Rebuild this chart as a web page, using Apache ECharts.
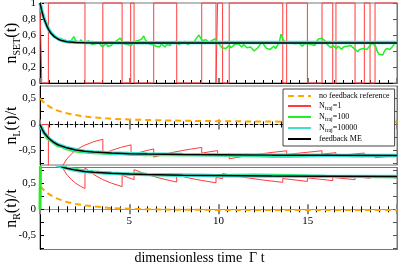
<!DOCTYPE html>
<html><head><meta charset="utf-8">
<script src="https://cdn.jsdelivr.net/npm/echarts@6/dist/echarts.min.js"></script>
<style>html,body{margin:0;padding:0;background:#fff}#c{width:399px;height:269px}</style>
</head><body><div id="c"></div>
<script>
// ---------- Panel 1 : n_SET(t) ----------
const redSwitchTimes = [0.1,0.47,2.52,3.52,4.6,5.08,5.27,6.37,7.66,9.06,9.86,9.95,10.23,10.6,13.6,13.82,14.98,15.8,16.4,16.58,17.65,18.17,18.49,18.77];
const redSetStates = [1,0,1,0,1,0,1,0,1,0,1,0,1,0,1,0,1,0,1,0,1,0,1,0,1];
const greenSetStep = 0.1;
const greenSet = [
1.0,0.91,0.84,0.77,0.72,0.68,0.64,0.61,0.59,0.57,
0.55,0.53,0.56,0.52,0.54,0.51,0.53,0.50,0.55,0.58,
0.53,0.55,0.51,0.54,0.50,0.52,0.49,0.53,0.51,0.48,
0.46,0.49,0.47,0.50,0.48,0.45,0.47,0.49,0.46,0.48,
0.47,0.50,0.49,0.53,0.51,0.56,0.52,0.49,0.51,0.48,
0.50,0.47,0.49,0.52,0.50,0.53,0.51,0.55,0.59,0.54,
0.52,0.49,0.51,0.48,0.50,0.46,0.48,0.45,0.49,0.47,
0.45,0.48,0.50,0.47,0.51,0.49,0.52,0.50,0.48,0.51,
0.49,0.52,0.50,0.48,0.51,0.53,0.50,0.54,0.57,0.60,
0.56,0.53,0.51,0.54,0.52,0.50,0.53,0.51,0.55,0.52,
0.50,0.47,0.44,0.46,0.43,0.45,0.47,0.44,0.46,0.48,
0.46,0.49,0.47,0.45,0.48,0.46,0.44,0.42,0.45,0.43,
0.40,0.42,0.44,0.47,0.52,0.50,0.46,0.43,0.45,0.42,
0.44,0.46,0.43,0.47,0.50,0.61,0.55,0.52,0.54,0.51,
0.53,0.50,0.52,0.49,0.47,0.50,0.48,0.46,0.49,0.47,
0.49,0.51,0.48,0.50,0.47,0.52,0.55,0.53,0.56,0.54,
0.52,0.48,0.46,0.44,0.47,0.45,0.43,0.46,0.44,0.42,
0.45,0.43,0.46,0.44,0.47,0.45,0.43,0.41,0.39,0.42,
0.40,0.43,0.45,0.42,0.44,0.47,0.50,0.48,0.46,0.39,
0.36,0.38,0.35,0.40,0.43,0.45,0.42,0.44,0.47,0.50,
0.52];
const turqSet = [[0,1],[0.1,0.905],[0.2,0.825],[0.3,0.765],[0.4,0.71],[0.5,0.665],[0.6,0.63],[0.8,0.585],[1,0.555],[1.2,0.535],[1.5,0.52],[2,0.51],[3,0.505],[5,0.504],[10,0.505],[15,0.506],[20,0.506]];
const meSet = [[0,1],[0.1,0.9],[0.2,0.82],[0.3,0.76],[0.4,0.705],[0.5,0.66],[0.6,0.625],[0.8,0.58],[1,0.55],[1.2,0.53],[1.5,0.515],[2,0.505],[2.5,0.502],[3,0.5],[20,0.5]];
const noFbSet = [[0,1],[0.1,0.9],[0.2,0.82],[0.3,0.76],[0.4,0.705],[0.5,0.66],[0.6,0.625],[0.8,0.58],[1,0.55],[1.2,0.53],[1.5,0.515],[2,0.505],[2.5,0.502],[3,0.5],[20,0.5]];

// ---------- Panel 2 : n_L(t)/t ----------
const noFbL = [[0,0.5],[0.25,0.41],[0.5,0.35],[0.75,0.3],[1,0.265],[1.5,0.215],[2,0.18],[2.5,0.155],[3,0.135],[4,0.11],[5,0.095],[6,0.085],[8,0.072],[10,0.063],[13,0.055],[16,0.05],[20,0.045]];
const redL = [[0,0],[0.47,0],[0.47,-2.13],[0.7,-1.43],[1,-1.0],[1.25,-0.8],[1.5,-0.667],[1.75,-0.571],[2,-0.5],[2.25,-0.444],[2.5,-0.4],[3,-0.333],[3.52,-0.284],[3.52,-0.568],[4,-0.5],[4.5,-0.444],[5.1,-0.392],[5.1,-0.588],[5.5,-0.545],[6,-0.5],[6.37,-0.471],[6.37,-0.628],[7,-0.571],[7.5,-0.533],[8,-0.5],[8.5,-0.471],[9.06,-0.442],[9.06,-0.552],[9.5,-0.526],[9.95,-0.503],[9.95,-0.603],[10.6,-0.566],[10.6,-0.66],[11,-0.636],[11.5,-0.609],[12,-0.583],[12.5,-0.56],[13,-0.538],[13.82,-0.507],[13.82,-0.579],[14.5,-0.552],[15.8,-0.506],[15.8,-0.57],[16.58,-0.543],[16.58,-0.603],[17,-0.588],[18.17,-0.55],[18.17,-0.605],[18.77,-0.586],[18.77,-0.639],[19.5,-0.615],[20,-0.6]];
const greenL = [[0,0],[0.1,-0.06],[0.2,-0.16],[0.3,-0.2],[0.4,-0.26],[0.5,-0.28],[0.6,-0.31],[0.8,-0.36],[1,-0.41],[1.25,-0.43],[1.5,-0.47],[1.75,-0.49],[2,-0.51],[2.5,-0.53],[3,-0.545],[3.5,-0.55],[4,-0.565],[4.5,-0.56],[5,-0.575],[5.5,-0.58],[6,-0.585],[6.5,-0.58],[7,-0.585],[8,-0.58],[9,-0.585],[10,-0.59],[11,-0.595],[12,-0.6],[13,-0.61],[14,-0.612],[15,-0.605],[16,-0.6],[17,-0.6],[18,-0.605],[19,-0.6],[20,-0.6]];
const turqL = [[0,0],[0.1,-0.075],[0.25,-0.165],[0.5,-0.265],[0.75,-0.335],[1,-0.385],[1.5,-0.448],[2,-0.488],[2.5,-0.513],[3,-0.528],[4,-0.548],[5,-0.56],[6,-0.568],[8,-0.577],[10,-0.583],[13,-0.589],[16,-0.593],[20,-0.596]];
const meL = [[0,0],[0.1,-0.08],[0.25,-0.17],[0.5,-0.27],[0.75,-0.34],[1,-0.39],[1.5,-0.45],[2,-0.49],[2.5,-0.515],[3,-0.53],[4,-0.55],[5,-0.562],[6,-0.57],[8,-0.578],[10,-0.584],[13,-0.59],[16,-0.594],[20,-0.597]];

// ---------- Panel 3 : n_R(t)/t ----------
const noFbR = [[0,0.44],[0.25,0.36],[0.5,0.29],[0.75,0.24],[1,0.2],[1.5,0.14],[2,0.1],[2.5,0.075],[3,0.055],[4,0.025],[5,0.01],[6,0],[8,-0.01],[10,-0.012],[14,-0.015],[20,-0.015]];
const redR = [[0,0],[0.1,0],[0.1,10],[0.2,5],[0.4,2.5],[0.7,1.43],[1,1.0],[1.25,0.8],[1.5,0.667],[1.75,0.571],[2,0.5],[2.25,0.444],[2.52,0.397],[2.52,0.794],[3,0.667],[3.5,0.571],[4,0.5],[4.6,0.435],[4.6,0.652],[5,0.6],[5.27,0.569],[5.27,0.759],[5.75,0.696],[6.25,0.64],[7,0.571],[7.66,0.522],[7.66,0.653],[8.25,0.606],[9,0.556],[9.86,0.507],[9.86,0.609],[10.23,0.587],[10.23,0.684],[11,0.636],[11.75,0.596],[12.5,0.56],[13.6,0.515],[13.6,0.588],[14.98,0.534],[14.98,0.601],[16.4,0.549],[16.4,0.61],[17.65,0.567],[17.65,0.623],[18.49,0.595],[18.49,0.649],[19.25,0.623],[20,0.6]];
const greenR = [[0,0],[0.03,0],[0.05,1.6],[0.2,1.2],[0.5,0.98],[1,0.86],[1.25,0.82],[1.5,0.79],[2,0.76],[2.5,0.735],[3,0.715],[4,0.69],[5,0.675],[6,0.665],[7,0.66],[8,0.655],[10,0.645],[11,0.65],[12,0.655],[13,0.652],[14,0.648],[15,0.635],[16,0.63],[18,0.628],[20,0.625]];
const turqR = [[0,1.0],[0.25,0.955],[0.5,0.915],[0.75,0.875],[1,0.84],[1.25,0.808],[1.5,0.783],[2,0.748],[2.5,0.724],[3,0.708],[4,0.688],[5,0.674],[6,0.664],[8,0.651],[10,0.644],[13,0.637],[16,0.632],[20,0.628]];
const meR = [[0,1.0],[0.25,0.96],[0.5,0.92],[0.75,0.88],[1,0.845],[1.25,0.81],[1.5,0.785],[2,0.75],[2.5,0.725],[3,0.71],[4,0.69],[5,0.675],[6,0.665],[8,0.652],[10,0.645],[13,0.637],[16,0.632],[20,0.627]];

// ---------- labels ----------
const legendNames = ['no feedback reference','Ntraj=1','Ntraj=100','Ntraj=10000','feedback ME'];
const xLabels = [5,10,15];
const yTicks1 = [0,0.2,0.4,0.6,0.8,1];
const yTicks23 = [-0.75,-0.5,-0.25,0,0.25,0.5,0.75];
const yLabels23 = [-0.5,0,0.5];
const xTitle = 'dimensionless time  \u0393 t';

// ---------- build ----------
const serif = "'Liberation Serif','DejaVu Serif',serif";
const C = {orange:'#ffa500', red:'#ff3b3b', green:'#22ee22', turq:'#40e0d0', black:'#000'};
const fmt = v => String(v).replace('.', ',');

const redSet = [];
redSetStates.forEach((s,i) => { redSet.push([i === 0 ? 0 : redSwitchTimes[i-1], s]); });
redSet.push([20, redSetStates[redSetStates.length-1]]);
const greenSetData = greenSet.map((v,i) => [+(i*greenSetStep).toFixed(2), v]);

const G = [
  {left:40, right:2, top:3, height:80},
  {left:40, right:2, top:86, height:79},
  {left:40, right:2, top:167.5, height:82}
];
const grids = G.map(g => Object.assign({show:true, borderColor:'#777', borderWidth:1, backgroundColor:'transparent', containLabel:false, outerBoundsMode:'none'}, g));

const yRanges = [[0,1],[-0.78,0.74],[-0.77,0.80]];
const zeroFromTop = p => G[p].height * yRanges[p][1] / (yRanges[p][1] - yRanges[p][0]);
const zeroFromBottom = p => G[p].height - zeroFromTop(p);

const nameRich = {
  n:{fontSize:16, fontFamily:serif, color:'#000', lineHeight:20},
  s:{fontSize:10, fontFamily:serif, color:'#000', verticalAlign:'bottom', lineHeight:9}
};
const yNames = ['{n|n}{s|SET}{n|(t)}', '{n|n}{s|L}{n|(t)/t}', '{n|n}{s|R}{n|(t)/t}'];

const yAxis = [];
for (let p = 0; p < 3; p++) {
  const ticks = p === 0 ? yTicks1 : yTicks23;
  const labs = p === 0 ? yTicks1 : yLabels23;
  yAxis.push({
    type:'value', gridIndex:p, position:'left', min:yRanges[p][0], max:yRanges[p][1],
    splitLine:{show:false},
    axisLine:{show:true, onZero:false, lineStyle:{color:'#000', width:1}},
    axisTick:{show:true, inside:true, length:4, customValues:ticks, lineStyle:{color:'#000'}},
    axisLabel:{show:true, customValues:labs, formatter:fmt, fontFamily:serif, fontSize:11, color:'#000', margin:4},
    name:yNames[p], nameLocation:'middle', nameGap:18, nameRotate:90, nameMoveOverlap:false,
    nameTextStyle:{rich:nameRich}
  });
  yAxis.push({
    type:'value', gridIndex:p, position:'right', min:yRanges[p][0], max:yRanges[p][1],
    splitLine:{show:false},
    axisLine:{show:true, onZero:false, lineStyle:{color:'#777'}},
    axisTick:{show:true, inside:true, length:4, customValues:ticks, lineStyle:{color:'#555'}},
    axisLabel:{show:false}
  });
}

const minor = {show:true, splitNumber:10, length:3, lineStyle:{color:'#000', width:1}};
const majorTick = {show:true, inside:false, length:5, lineStyle:{color:'#888', width:2}};
const xAxis = [
  {type:'value', gridIndex:0, position:'bottom', min:0, max:20, interval:5,
   axisLine:{show:true, onZero:false, lineStyle:{color:'#000'}},
   axisTick:{show:true, inside:true, length:5, lineStyle:{color:'#777', width:2}},
   minorTick:minor, axisLabel:{show:false}, splitLine:{show:false}},
  {type:'value', gridIndex:1, position:'bottom', offset:-zeroFromBottom(1), min:0, max:20, interval:5,
   axisLine:{show:true, onZero:false, lineStyle:{color:'#000', type:[3,2]}},
   axisTick:majorTick, minorTick:minor, axisLabel:{show:false}, splitLine:{show:false}},
  {type:'value', gridIndex:1, position:'top', offset:-zeroFromTop(1), min:0, max:20, interval:5,
   axisLine:{show:false, onZero:false},
   axisTick:majorTick, minorTick:minor, axisLabel:{show:false}, splitLine:{show:false}},
  {type:'value', gridIndex:2, position:'bottom', offset:-zeroFromBottom(2), min:0, max:20, interval:5,
   axisLine:{show:true, onZero:false, lineStyle:{color:'#999'}},
   axisTick:majorTick, minorTick:minor,
   axisLabel:{show:true, customValues:xLabels, fontFamily:serif, fontSize:11, color:'#000', margin:6},
   splitLine:{show:false}},
  {type:'value', gridIndex:2, position:'top', offset:-zeroFromTop(2), min:0, max:20, interval:5,
   axisLine:{show:false, onZero:false},
   axisTick:majorTick, minorTick:minor, axisLabel:{show:false}, splitLine:{show:false}}
];

function line(name, data, xi, yi, color, width, extra) {
  return Object.assign({
    type:'line', name, data, xAxisIndex:xi, yAxisIndex:yi, showSymbol:false, symbol:'none',
    lineStyle:{color, width}, itemStyle:{color}, clip:true, silent:true
  }, extra || {});
}
const dashed = c => ({lineStyle:{color:c, width:2, type:[6,4]}});

const series = [
  line(legendNames[0], noFbSet, 0, 0, C.orange, 2, dashed(C.orange)),
  line(legendNames[1], redSet, 0, 0, C.red, 1, {step:'end', clip:false}),
  line(legendNames[2], greenSetData, 0, 0, C.green, 1.5),
  line(legendNames[3], turqSet, 0, 0, C.turq, 3.5),
  line(legendNames[4], meSet, 0, 0, C.black, 1.5),

  line(legendNames[0], noFbL, 1, 2, C.orange, 2, dashed(C.orange)),
  line(legendNames[1], redL, 1, 2, C.red, 1),
  line(legendNames[2], greenL, 1, 2, C.green, 3),
  line(legendNames[3], turqL, 1, 2, C.turq, 3.5),
  line(legendNames[4], meL, 1, 2, C.black, 1.5),

  line(legendNames[0], noFbR, 3, 4, C.orange, 2, dashed(C.orange)),
  line(legendNames[1], redR, 3, 4, C.red, 1),
  line(legendNames[2], greenR, 3, 4, C.green, 3),
  line(legendNames[3], turqR, 3, 4, C.turq, 3.5),
  line(legendNames[4], meR, 3, 4, C.black, 1.5)
];

const option = {
  animation:false,
  backgroundColor:'#fff',
  grid:grids, xAxis, yAxis, series,
  legend:{
    data:legendNames, orient:'vertical', left:283, top:89,
    padding:[3,5,3,4], itemGap:2, itemWidth:23, itemHeight:9,
    backgroundColor:'#fff', borderColor:'#444', borderWidth:1,
    selectedMode:false,
    itemStyle:{opacity:0, borderWidth:0},
    formatter: n => n.startsWith('Ntraj') ? '{p|}{a|N}{s|traj}{a|=' + n.split('=')[1] + '}' : '{p|}{a|' + n + '}',
    textStyle:{fontFamily:serif, fontSize:8, color:'#000',
      rich:{p:{width:3}, a:{fontFamily:serif, fontSize:8, color:'#000', lineHeight:10},
            s:{fontFamily:serif, fontSize:6, color:'#000', verticalAlign:'bottom', lineHeight:6}}}
  },
  graphic:[{type:'text', left:'center', x:0, top:251, style:{text:xTitle, font:"14px 'Liberation Serif'", fill:'#000'}}]
};
const chart = echarts.init(document.getElementById('c'), null, {renderer:'canvas'});
chart.setOption(option);
</script></body></html>
